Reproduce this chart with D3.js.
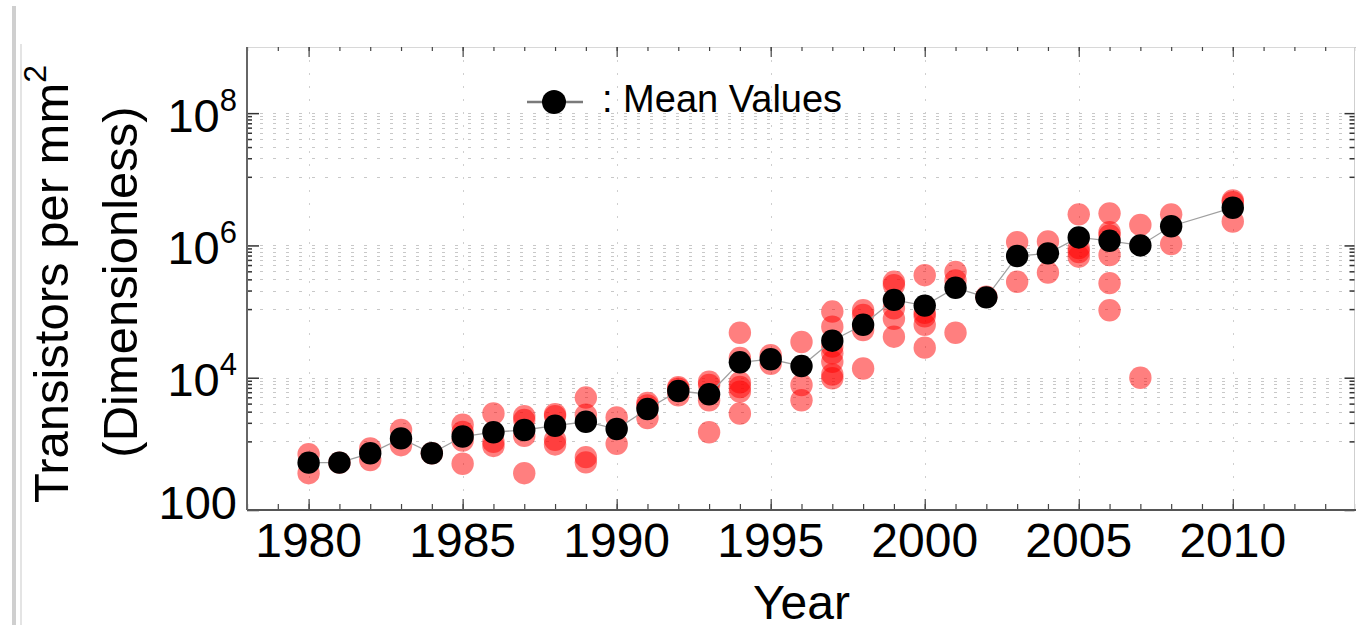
<!DOCTYPE html>
<html>
<head>
<meta charset="utf-8">
<script src="https://cdn.jsdelivr.net/npm/d3@7"></script>
<style>
  html, body { margin: 0; padding: 0; background: #ffffff; }
  svg { display: block; }
  text { font-family: "Liberation Sans", Arial, Helvetica, sans-serif; fill: #000; }
</style>
</head>
<body>
<svg id="chart" width="1356" height="625"></svg>
<script>
// Yearly mean transistor density (transistors per mm^2)
const years = [1980, 1981, 1982, 1983, 1984, 1985, 1986, 1987, 1988, 1989, 1990,
  1991, 1992, 1993, 1994, 1995, 1996, 1997, 1998, 1999, 2000,
  2001, 2002, 2003, 2004, 2005, 2006, 2007, 2008, 2010];
const meanDensity = [520, 520, 720, 1210, 720, 1290, 1500, 1620, 1880, 2160, 1675,
  3370, 6300, 5620, 17100, 19000, 15000, 36300, 63100, 150000, 123000,
  229000, 164000, 692000, 759000, 1320000, 1175000, 1000000, 1950000, 3715000];

// Individual chips: year and density
const sampleYear = [
  1980, 1980, 1981, 1982, 1982, 1983, 1983, 1984,
  1985, 1985, 1985, 1985, 1986, 1986, 1986,
  1987, 1987, 1987, 1987, 1988, 1988, 1988, 1988,
  1989, 1989, 1989, 1989, 1990, 1990,
  1991, 1991, 1991, 1992, 1992, 1992,
  1993, 1993, 1993, 1993,
  1994, 1994, 1994, 1994, 1994, 1994, 1995, 1995,
  1996, 1996, 1996,
  1997, 1997, 1997, 1997, 1997, 1997, 1997,
  1998, 1998, 1998, 1998,
  1999, 1999, 1999, 1999, 1999,
  2000, 2000, 2000, 2000, 2000,
  2001, 2001, 2001, 2002,
  2003, 2003, 2004, 2004,
  2005, 2005, 2005, 2005,
  2006, 2006, 2006, 2006, 2006, 2006,
  2007, 2007, 2008, 2008,
  2010, 2010, 2010
];
const sampleDensity = [
  700, 360, 520, 850, 570, 1620, 955, 720,
  1950, 1510, 1120, 500, 2880, 1070, 930,
  2630, 2290, 1320, 360, 2820, 2630, 1150, 980,
  5010, 2750, 630, 525, 2510, 1000,
  4170, 3800, 2450, 7200, 6800, 5400,
  8710, 7760, 4570, 1500,
  47900, 19950, 8510, 7240, 6170, 2880, 21900, 16200,
  34700, 7760, 4570,
  100000, 58900, 29500, 23400, 17400, 11200, 9800,
  104700, 89100, 52500, 13800,
  281800, 251200, 112200, 77600, 41700,
  354800, 95500, 85100, 63100, 28500,
  398100, 295100, 47900, 168000,
  1122000, 281800, 1148000, 389000,
  2951000, 912000, 794000, 676000,
  3055000, 1585000, 1413000, 716000, 269000, 104700,
  2042000, 10000, 2951000, 1047000,
  4800000, 4500000, 2300000
];

// Axis ticks and labels
const xMajorTicks = [1980, 1985, 1990, 1995, 2000, 2005, 2010];
const xMinorTicks = d3.range(1978, 2015, 1);
const yMajorTicks = [1e2, 1e4, 1e6, 1e8];
const yTickBase = ["100", "10", "10", "10"];
const yTickExponent = ["", "4", "6", "8"];
const legendLabel = ": Mean Values";
const xAxisTitle = "Year";
const yAxisTitleLine1 = "Transistors per mm";
const yAxisTitleLine2 = "(Dimensionless)";

const svg = d3.select("#chart");
const plotLeft = 247, plotRight = 1356, plotTop = 47, plotBottom = 510;

const x = d3.scaleLinear().domain([1978, 2014]).range([plotLeft, plotRight]);
const y = d3.scaleLog().domain([1e2, 1e9]).range([plotBottom, plotTop]);

// Minor ticks: nine evenly spaced values between consecutive labelled ticks
const yMinorTicks = [];
for (let i = 0; i < yMajorTicks.length; i++) {
  const lo = yMajorTicks[i], hi = lo * 100;
  for (let k = 1; k <= 9; k++) {
    const v = lo + k * (hi - lo) / 10;
    if (v < 1e9) yMinorTicks.push(v);
  }
}

// Window edge decoration on the left
svg.append("rect").attr("x", 12).attr("y", 6).attr("width", 4).attr("height", 625)
  .attr("fill", "#cfcfcf");
svg.append("rect").attr("x", 20).attr("y", 44).attr("width", 2).attr("height", 590)
  .attr("fill", "#e4e4e4");

// Grid: dashed rows at every y tick, dotted columns at labelled years
const grid = svg.append("g").attr("stroke-width", 1);
grid.selectAll("line.h").data(yMajorTicks.concat(yMinorTicks).filter(v => v > 1e2)).join("line")
  .attr("class", "h")
  .attr("stroke", "#c8c8c8").attr("stroke-dasharray", "3,10")
  .attr("x1", plotLeft).attr("x2", plotRight)
  .attr("y1", d => Math.round(y(d)) + 0.5).attr("y2", d => Math.round(y(d)) + 0.5);
grid.selectAll("line.v").data(xMajorTicks).join("line")
  .attr("class", "v")
  .attr("stroke", "#cfcfcf").attr("stroke-dasharray", "2,11")
  .attr("x1", d => Math.round(x(d)) + 0.5).attr("x2", d => Math.round(x(d)) + 0.5)
  .attr("y1", plotTop).attr("y2", plotBottom);

// Frame
svg.append("line").attr("x1", plotLeft).attr("x2", plotRight).attr("y1", plotTop + 0.5).attr("y2", plotTop + 0.5)
  .attr("stroke", "#d8d8d8").attr("stroke-width", 1);
svg.append("line").attr("x1", plotRight - 1.5).attr("x2", plotRight - 1.5).attr("y1", plotTop).attr("y2", plotBottom)
  .attr("stroke", "#cfcfcf").attr("stroke-width", 1);

// Bottom and top x axes (ticks pointing inward)
const xBottom = d3.axisBottom(x).tickValues(xMinorTicks).tickSize(-6).tickFormat("");
const xBottomMajor = d3.axisBottom(x).tickValues(xMajorTicks).tickSize(-11).tickFormat("");
const xTop = d3.axisTop(x).tickValues(xMinorTicks).tickSize(-4).tickFormat("");
const xTopMajor = d3.axisTop(x).tickValues(xMajorTicks).tickSize(-10).tickFormat("");
[[xBottom, plotBottom], [xBottomMajor, plotBottom], [xTop, plotTop], [xTopMajor, plotTop]].forEach(([ax, ty]) => {
  const g = svg.append("g").attr("transform", `translate(0,${ty})`).call(ax);
  g.select(".domain").remove();
  g.selectAll(".tick line").attr("stroke", "#444").attr("stroke-width", 1.2);
});

// Left and right y axes
const yLeftMinor = d3.axisLeft(y).tickValues(yMinorTicks).tickSize(-5).tickFormat("");
const yLeftMajor = d3.axisLeft(y).tickValues(yMajorTicks).tickSize(-12).tickFormat("");
const yRightMinor = d3.axisRight(y).tickValues(yMinorTicks).tickSize(-5).tickFormat("");
const yRightMajor = d3.axisRight(y).tickValues(yMajorTicks).tickSize(-10).tickFormat("");
[[yLeftMinor, plotLeft], [yLeftMajor, plotLeft], [yRightMinor, plotRight - 1.5], [yRightMajor, plotRight - 1.5]].forEach(([ax, tx]) => {
  const g = svg.append("g").attr("transform", `translate(${tx},0)`).call(ax);
  g.select(".domain").remove();
  g.selectAll(".tick line").attr("stroke", "#333").attr("stroke-width", 1.5);
});

// Axis lines
svg.append("line").attr("x1", plotLeft).attr("x2", plotRight).attr("y1", plotBottom).attr("y2", plotBottom)
  .attr("stroke", "#555").attr("stroke-width", 2.2);
svg.append("line").attr("x1", plotLeft).attr("x2", plotLeft).attr("y1", plotTop).attr("y2", plotBottom)
  .attr("stroke", "#666").attr("stroke-width", 2);

// X tick labels
svg.append("g").selectAll("text").data(xMajorTicks).join("text")
  .attr("x", d => x(d)).attr("y", 557)
  .attr("text-anchor", "middle").attr("font-size", 48)
  .text(d => d);

// Y tick labels with exponents
const yLab = svg.append("g").selectAll("text").data(yMajorTicks).join("text")
  .attr("x", 237)
  .attr("y", (d, i) => i === 0 ? y(d) + 9 : y(d) + 18.5)
  .attr("text-anchor", "end").attr("font-size", 47);
yLab.append("tspan").text((d, i) => yTickBase[i]);
yLab.append("tspan").attr("font-size", 31).attr("dy", -21)
  .text((d, i) => yTickExponent[i]);

// Axis titles
svg.append("text").attr("x", (plotLeft + plotRight) / 2).attr("y", 619)
  .attr("text-anchor", "middle").attr("font-size", 48).text(xAxisTitle);

const t1 = svg.append("text").attr("transform", "translate(68,284) rotate(-90)")
  .attr("text-anchor", "middle").attr("font-size", 49);
t1.append("tspan").text(yAxisTitleLine1);
t1.append("tspan").attr("font-size", 32).attr("dy", -22).text("2");
svg.append("text").attr("transform", "translate(137,282) rotate(-90)")
  .attr("text-anchor", "middle").attr("font-size", 49).text(yAxisTitleLine2);

// Individual samples
svg.append("g").selectAll("circle").data(sampleYear).join("circle")
  .attr("cx", d => x(d))
  .attr("cy", (d, i) => y(sampleDensity[i]))
  .attr("r", 11.2)
  .attr("fill", "#ff0000").attr("fill-opacity", 0.5);

// Mean line and markers
const meanLine = d3.line().x((d, i) => x(years[i])).y(d => y(d));
svg.append("path").datum(meanDensity).attr("d", meanLine)
  .attr("fill", "none").attr("stroke", "#a0a0a0").attr("stroke-width", 1.3);
svg.append("g").selectAll("circle").data(meanDensity).join("circle")
  .attr("cx", (d, i) => x(years[i]))
  .attr("cy", d => y(d))
  .attr("r", 11.2)
  .attr("fill", "#000");

// Legend
svg.append("line").attr("x1", 527).attr("x2", 583).attr("y1", 102).attr("y2", 102)
  .attr("stroke", "#7a7a7a").attr("stroke-width", 2.5);
svg.append("circle").attr("cx", 554).attr("cy", 102).attr("r", 12).attr("fill", "#000");
svg.append("text").attr("x", 602).attr("y", 112).attr("font-size", 38).text(legendLabel);
</script>
</body>
</html>
